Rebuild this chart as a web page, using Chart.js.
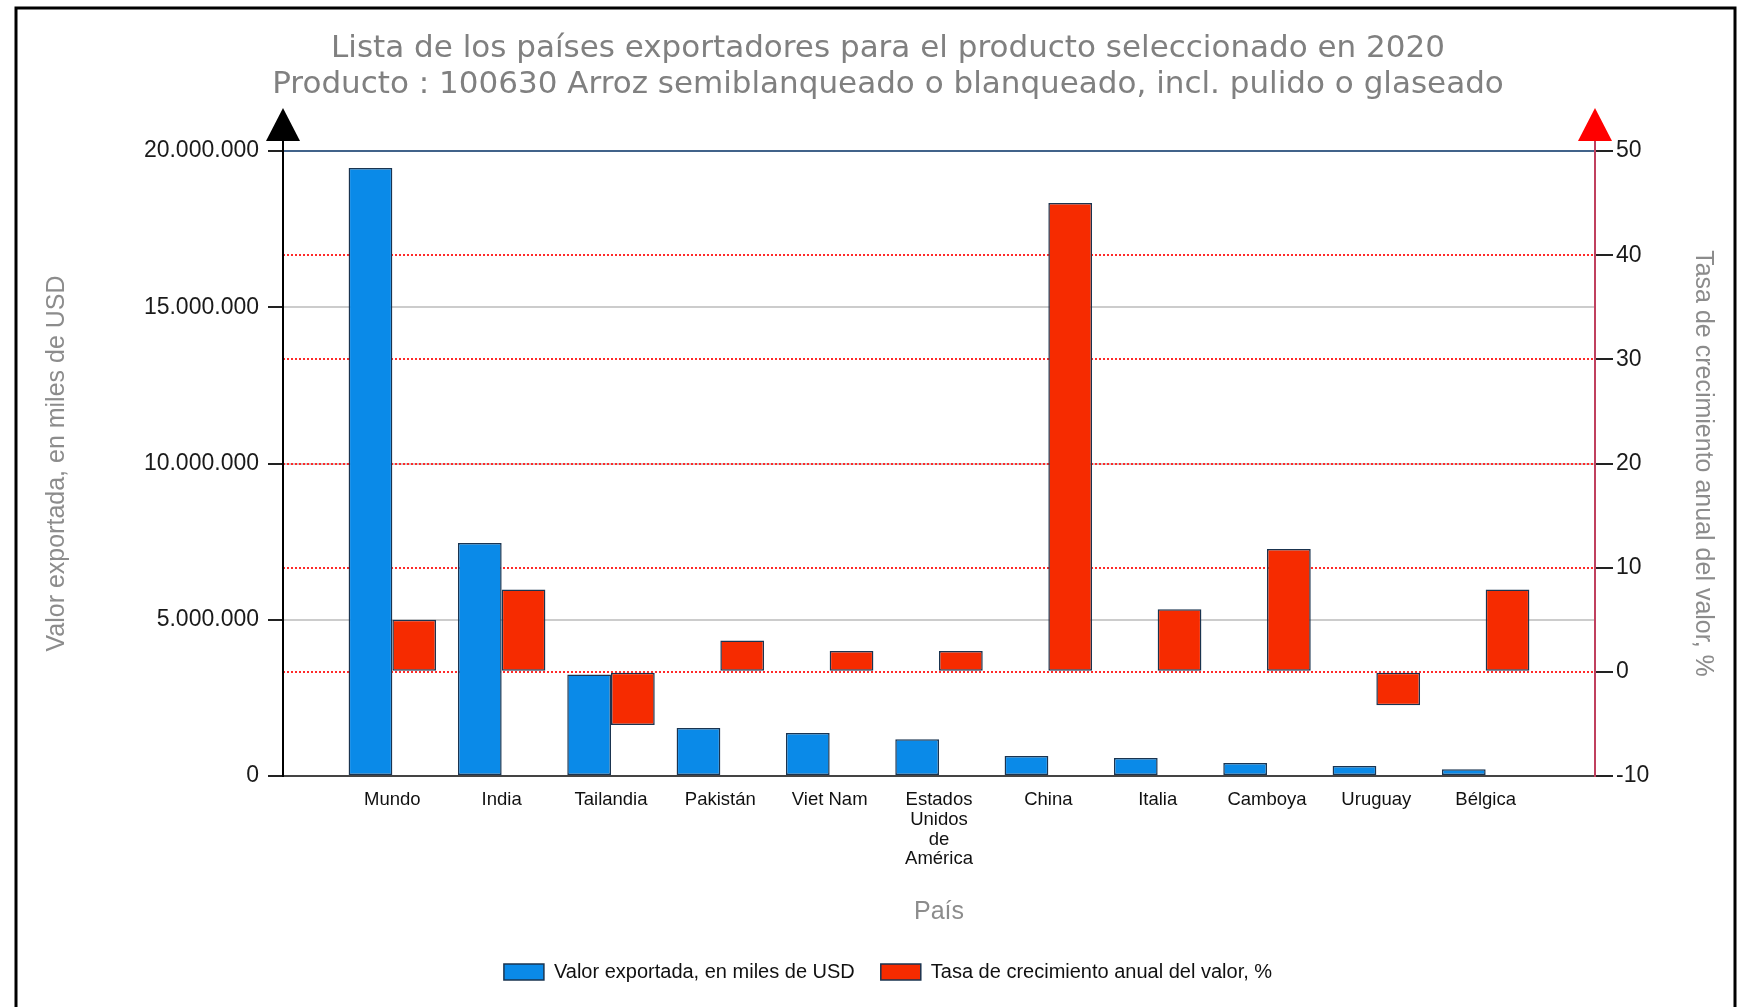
<!DOCTYPE html>
<html>
<head>
<meta charset="utf-8">
<script src="https://cdn.jsdelivr.net/npm/chart.js@4.4.0/dist/chart.umd.min.js"></script>
<style>
  html, body { margin: 0; padding: 0; background: #fff; }
  #wrap { width: 1742px; height: 1007px; }
</style>
</head>
<body>
<div id="wrap"><canvas id="exportChart" width="1742" height="1007"></canvas></div>
<script>
// Datos del gráfico
const paises = ['Mundo', 'India', 'Tailandia', 'Pakistán', 'Viet Nam', ['Estados', 'Unidos', 'de', 'América'], 'China', 'Italia', 'Camboya', 'Uruguay', 'Bélgica'];
const valorExportado = [19460000, 7460000, 3250000, 1540000, 1380000, 1180000, 640000, 580000, 420000, 320000, 220000];
const tasaCrecimiento = [5.0, 7.9, -5.1, 3.0, 2.0, 2.0, 45.0, 6.0, 11.8, -3.2, 7.9];
const ticksValor = [0, 5000000, 10000000, 15000000, 20000000];
const ticksTasa = [-10, 0, 10, 20, 30, 40, 50];

const titulo = [
    'Lista de los países exportadores para el producto seleccionado en 2020',
    'Producto : 100630 Arroz semiblanqueado o blanqueado, incl. pulido o glaseado'
];

function miles(v) {
    return String(v).replace(/\B(?=(\d{3})+(?!\d))/g, '.');
}

// un hueco vacío a cada lado, como en el original
const etiquetas = [''].concat(paises, ['']);
const pad = arr => [null].concat(arr, [null]);

const margenIzq = 34;
const ejeFont = { family: 'Liberation Sans', size: 23 };
const tituloEjeFont = { family: 'Liberation Sans', size: 25 };

// marco, flechas y fondo
const decoracion = {
    id: 'decoracion',
    beforeDraw(chart) {
        const c = chart.ctx;
        c.save();
        c.fillStyle = '#fff';
        c.fillRect(0, 0, chart.width, chart.height);
        c.restore();
    },
    afterDraw(chart) {
        const c = chart.ctx;
        const top = chart.chartArea.top;
        const xl = chart.scales.y.right;
        const xr = chart.scales.y1.left;
        c.save();
        // marco exterior
        c.strokeStyle = '#000';
        c.lineWidth = 3;
        c.beginPath();
        c.moveTo(16, chart.height);
        c.lineTo(16, 8);
        c.lineTo(1735, 8);
        c.lineTo(1735, chart.height);
        c.stroke();
        // prolongar ejes hasta las flechas
        c.lineWidth = 2;
        c.beginPath();
        c.moveTo(xl, top);
        c.lineTo(xl, top - 12);
        c.stroke();
        c.strokeStyle = '#c0405e';
        c.beginPath();
        c.moveTo(xr, top);
        c.lineTo(xr, top - 12);
        c.stroke();
        // flechas
        const flecha = (x, color) => {
            c.fillStyle = color;
            c.beginPath();
            c.moveTo(x, top - 43);
            c.lineTo(x + 17, top - 10);
            c.lineTo(x - 17, top - 10);
            c.closePath();
            c.fill();
        };
        flecha(xl, '#000');
        flecha(xr, '#ff0000');
        c.restore();
    }
};

const ctx = document.getElementById('exportChart').getContext('2d');
new Chart(ctx, {
    type: 'bar',
    data: {
        labels: etiquetas,
        datasets: [{
            label: 'Valor exportada, en miles de USD',
            data: pad(valorExportado),
            yAxisID: 'y',
            backgroundColor: '#0a8ae8',
            borderColor: '#1a3450',
            borderWidth: 1.5,
            borderSkipped: false,
            categoryPercentage: 0.8,
            barPercentage: 1.0
        }, {
            label: 'Tasa de crecimiento anual del valor, %',
            data: pad(tasaCrecimiento),
            yAxisID: 'y1',
            backgroundColor: '#f62b00',
            borderColor: '#1a3450',
            borderWidth: 1.5,
            borderSkipped: false,
            categoryPercentage: 0.8,
            barPercentage: 1.0
        }]
    },
    options: {
        responsive: false,
        maintainAspectRatio: false,
        devicePixelRatio: 1,
        animation: false,
        layout: { padding: { left: margenIzq, right: 0, top: 0, bottom: 15 } },
        plugins: {
            title: {
                display: true,
                text: titulo,
                color: '#808080',
                font: { family: 'DejaVu Sans', size: 31, lineHeight: 36 / 31, weight: 'normal' },
                padding: { top: 31, bottom: 48 }
            },
            legend: {
                position: 'bottom',
                labels: {
                    font: { family: 'Liberation Sans', size: 20 },
                    color: '#111',
                    boxWidth: 40,
                    boxHeight: 16,
                    padding: 26
                }
            },
            tooltip: { enabled: false }
        },
        scales: {
            x: {
                type: 'category',
                offset: false,
                grid: { display: false, drawTicks: false },
                border: { display: true, color: '#444', width: 2 },
                ticks: {
                    font: { family: 'Liberation Sans', size: 18.5, lineHeight: 1.07 },
                    color: '#111',
                    padding: 14,
                    maxRotation: 0,
                    autoSkip: false
                },
                title: {
                    display: true,
                    text: 'País',
                    color: '#8c8c8c',
                    font: tituloEjeFont,
                    padding: { top: 0, bottom: 9 }
                },
                afterFit: s => { s.height = 160; }
            },
            y: {
                position: 'left',
                min: ticksValor[0],
                max: ticksValor[ticksValor.length - 1],
                ticks: {
                    stepSize: ticksValor[1] - ticksValor[0],
                    callback: v => miles(v),
                    font: ejeFont,
                    color: '#1a1a1a',
                    padding: 9
                },
                grid: {
                    color: c => c.tick.value === ticksValor[ticksValor.length - 1] ? '#41638a'
                        : (c.tick.value === 0 ? '#444' : '#cccccc'),
                    lineWidth: 2,
                    tickColor: '#222',
                    tickLength: 15,
                    tickWidth: 2
                },
                border: { display: true, color: '#000', width: 2 },
                title: {
                    display: true,
                    text: 'Valor exportada, en miles de USD',
                    color: '#8c8c8c',
                    font: tituloEjeFont,
                    padding: { top: 42 - margenIzq, bottom: 0 }
                },
                afterFit: s => { s.width = 283 - margenIzq; }
            },
            y1: {
                position: 'right',
                min: ticksTasa[0],
                max: ticksTasa[ticksTasa.length - 1],
                ticks: {
                    stepSize: ticksTasa[1] - ticksTasa[0],
                    font: ejeFont,
                    color: '#1a1a1a',
                    padding: 3
                },
                grid: {
                    color: c => (c.tick.value > ticksTasa[0] && c.tick.value < ticksTasa[ticksTasa.length - 1]) ? '#ff2a2a' : 'rgba(0,0,0,0)',
                    lineWidth: 2,
                    tickColor: '#222',
                    tickLength: 18,
                    tickWidth: 2
                },
                border: { display: true, color: '#c0405e', width: 2, dash: [2, 2] },
                title: {
                    display: true,
                    text: 'Tasa de crecimiento anual del valor, %',
                    color: '#8c8c8c',
                    font: tituloEjeFont,
                    padding: { top: 24, bottom: 0 }
                },
                afterFit: s => { s.width = 147; }
            }
        }
    },
    plugins: [decoracion]
});
</script>
</body>
</html>
